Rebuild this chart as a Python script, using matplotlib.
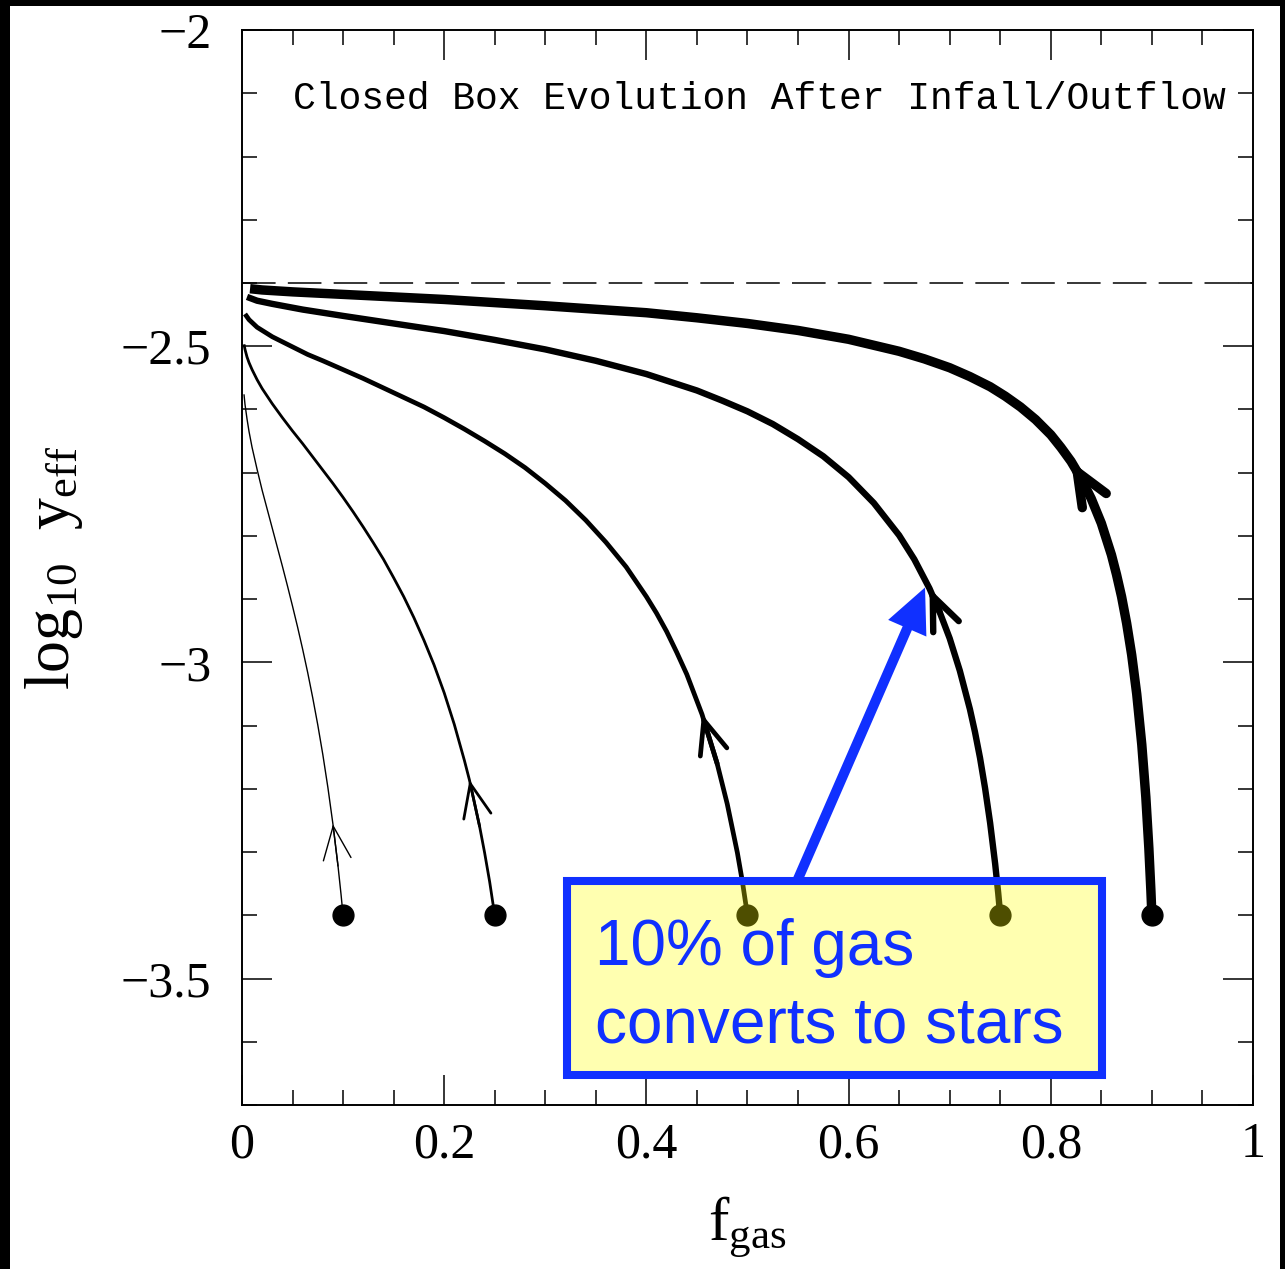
import matplotlib
matplotlib.use("Agg")
import matplotlib.pyplot as plt
from matplotlib.patches import Rectangle
from matplotlib.ticker import MultipleLocator, FuncFormatter

# ==========================================
# DATOS
# ==========================================
# log10 del rendimiento verdadero (linea discontinua)
log_y_true = -2.4

# punto de partida de cada caja cerrada
f_start = [0.1, 0.25, 0.5, 0.75, 0.9]
logy_start = [-3.4, -3.4, -3.4, -3.4, -3.4]

# curvas de evolucion (de f_start hacia f_gas -> 0)
f_a = [0.1, 0.098, 0.095, 0.09, 0.085, 0.08, 0.075, 0.07, 0.065, 0.06, 0.055,
       0.05, 0.045, 0.04, 0.035, 0.03, 0.025, 0.02, 0.015, 0.01, 0.007, 0.005,
       0.003, 0.002]
y_a = [-3.4, -3.367, -3.322, -3.256, -3.198, -3.146, -3.099, -3.056, -3.016,
       -2.979, -2.944, -2.911, -2.879, -2.848, -2.818, -2.788, -2.758, -2.728,
       -2.695, -2.660, -2.635, -2.615, -2.592, -2.576]

f_b = [0.25, 0.245, 0.24, 0.235, 0.225, 0.22, 0.21, 0.2, 0.19, 0.18, 0.17,
       0.16, 0.15, 0.14, 0.13, 0.12, 0.11, 0.10, 0.09, 0.08, 0.07, 0.06, 0.05,
       0.04, 0.03, 0.02, 0.015, 0.01, 0.007, 0.005, 0.003, 0.002]
y_b = [-3.4, -3.347, -3.301, -3.259, -3.186, -3.155, -3.098, -3.048, -3.004,
       -2.965, -2.929, -2.896, -2.866, -2.837, -2.811, -2.786, -2.762, -2.739,
       -2.717, -2.696, -2.675, -2.654, -2.634, -2.613, -2.591, -2.567, -2.553,
       -2.537, -2.526, -2.517, -2.505, -2.497]

f_c = [0.5, 0.495, 0.49, 0.48, 0.47, 0.455, 0.44, 0.43, 0.42, 0.41, 0.40,
       0.38, 0.36, 0.34, 0.32, 0.30, 0.28, 0.26, 0.24, 0.22, 0.20, 0.18, 0.16,
       0.14, 0.12, 0.10, 0.08, 0.065, 0.05, 0.03, 0.015, 0.007, 0.003]
y_c = [-3.4, -3.347, -3.301, -3.224, -3.160, -3.082, -3.019, -2.984, -2.951,
       -2.922, -2.896, -2.849, -2.810, -2.775, -2.744, -2.717, -2.692, -2.670,
       -2.650, -2.631, -2.613, -2.596, -2.581, -2.566, -2.551, -2.537, -2.523,
       -2.513, -2.501, -2.485, -2.470, -2.458, -2.449]

f_d = [0.75, 0.748, 0.745, 0.74, 0.735, 0.73, 0.725, 0.72, 0.71, 0.70, 0.69,
       0.68, 0.665, 0.65, 0.625, 0.60, 0.575, 0.55, 0.525, 0.50, 0.475, 0.45,
       0.40, 0.35, 0.30, 0.25, 0.20, 0.15, 0.10, 0.06, 0.03, 0.015, 0.005]
y_d = [-3.4, -3.365, -3.319, -3.254, -3.199, -3.151, -3.110, -3.074, -3.013,
       -2.962, -2.920, -2.883, -2.837, -2.799, -2.748, -2.707, -2.674, -2.647,
       -2.623, -2.603, -2.586, -2.570, -2.544, -2.523, -2.505, -2.490, -2.476,
       -2.464, -2.452, -2.442, -2.433, -2.428, -2.422]

f_e = [0.9, 0.899, 0.897, 0.894, 0.89, 0.885, 0.88, 0.875, 0.87, 0.865, 0.86,
       0.85, 0.84, 0.83, 0.82, 0.81, 0.80, 0.785, 0.77, 0.755, 0.74, 0.72,
       0.70, 0.675, 0.65, 0.60, 0.55, 0.50, 0.45, 0.40, 0.30, 0.20, 0.10, 0.05,
       0.02, 0.008]
y_e = [-3.4, -3.361, -3.294, -3.213, -3.130, -3.050, -2.988, -2.938, -2.896,
       -2.861, -2.830, -2.780, -2.741, -2.709, -2.682, -2.660, -2.640, -2.616,
       -2.596, -2.579, -2.564, -2.548, -2.534, -2.520, -2.508, -2.489, -2.475,
       -2.464, -2.455, -2.447, -2.436, -2.426, -2.418, -2.414, -2.411, -2.409]

curvas_f = [f_a, f_b, f_c, f_d, f_e]
curvas_y = [y_a, y_b, y_c, y_d, y_e]
# indice del punto donde va la punta de flecha en cada curva
idx_flecha = [3, 4, 5, 11, 14]

titulo = "Closed Box Evolution After Infall/Outflow"
nota = ["10% of gas", "converts to stars"]

# ==========================================
# ESTILO
# ==========================================
plt.rcParams['mathtext.fontset'] = 'custom'
plt.rcParams['mathtext.rm'] = 'Liberation Serif'
plt.rcParams['mathtext.it'] = 'Liberation Serif:italic'

grosores = [1.0, 2.0, 3.4, 4.6, 6.8]
azul = '#1030ff'

fig = plt.figure(figsize=(12.85, 12.69), dpi=100, facecolor='black')
fig.add_artist(Rectangle((10 / 1285, 0), 1270 / 1285, 1263 / 1269,
                         transform=fig.transFigure, facecolor='white',
                         edgecolor='none', zorder=-10))

ax = fig.add_axes([0.1883, 0.1292, 0.7868, 0.8471])
ax.set_facecolor('white')

# linea del rendimiento verdadero
ax.axhline(log_y_true, color='black', lw=1.1, dashes=(22, 8), zorder=1)

# curvas y flechas
for fx, fy, lw, j in zip(curvas_f, curvas_y, grosores, idx_flecha):
    ax.plot(fx, fy, color='black', lw=lw, solid_capstyle='butt',
            solid_joinstyle='round', zorder=2)
    ax.annotate('', xy=(fx[j], fy[j]), xytext=(fx[j - 1], fy[j - 1]),
                arrowprops=dict(arrowstyle='->,head_length=0.6,head_width=0.25',
                                lw=lw, color='black', shrinkA=0, shrinkB=0,
                                mutation_scale=40),
                zorder=3)

ax.plot(f_start, logy_start, 'o', color='black', ms=15, zorder=4)

# titulo interior
ax.text(0.05, -2.125, titulo, family='Liberation Mono', fontsize=27.4,
        va='baseline', ha='left', zorder=5)

# recuadro amarillo semitransparente
ax.add_patch(Rectangle((0.3215, -3.652), 0.5291, 0.306,
                       facecolor=(1, 1, 0, 0.31), edgecolor=azul, lw=5.8,
                       zorder=6))
ax.text(0.349, -3.4787, nota[0], family='Liberation Sans', fontsize=46,
        color=azul, va='baseline', ha='left', zorder=7)
ax.text(0.349, -3.6003, nota[1], family='Liberation Sans', fontsize=46,
        color=azul, va='baseline', ha='left', zorder=7)

# flecha azul
ax.annotate('', xy=(0.6756, -2.8815), xytext=(0.549, -3.346),
            arrowprops=dict(arrowstyle='simple,head_length=0.8,head_width=0.75,tail_width=0.18',
                            color=azul, lw=0, shrinkA=0, shrinkB=0,
                            mutation_scale=40),
            zorder=7)

# ==========================================
# EJES
# ==========================================
ax.set_xlim(0, 1)
ax.set_ylim(-3.7, -2)
ax.xaxis.set_major_locator(MultipleLocator(0.2))
ax.xaxis.set_minor_locator(MultipleLocator(0.05))
ax.yaxis.set_major_locator(MultipleLocator(0.5))
ax.yaxis.set_minor_locator(MultipleLocator(0.1))
fmt = FuncFormatter(lambda v, p: ('%g' % round(v, 3)).replace('-', '\u2212'))
ax.xaxis.set_major_formatter(fmt)
ax.yaxis.set_major_formatter(fmt)

ax.tick_params(which='both', direction='in', top=True, right=True,
               width=1.1, color='black')
ax.tick_params(which='major', length=21.6)
ax.tick_params(which='minor', length=10.8)
ax.tick_params(axis='x', pad=12)
ax.tick_params(axis='y', pad=22)
for lab in ax.get_xticklabels() + ax.get_yticklabels():
    lab.set_family('Liberation Serif')
    lab.set_fontsize(36)
for s in ax.spines.values():
    s.set_linewidth(1.4)

ax.set_xlabel(r'f$_{\rm gas}$', family='Liberation Serif', fontsize=44)
ax.set_ylabel(r'log$_{10}$  y$_{\rm eff}$', family='Liberation Serif', fontsize=46)
ax.xaxis.set_label_coords(0.5, -0.083)
ax.yaxis.set_label_coords(-0.155, 0.5)

fig.savefig('out.png', dpi=100, facecolor=fig.get_facecolor())
